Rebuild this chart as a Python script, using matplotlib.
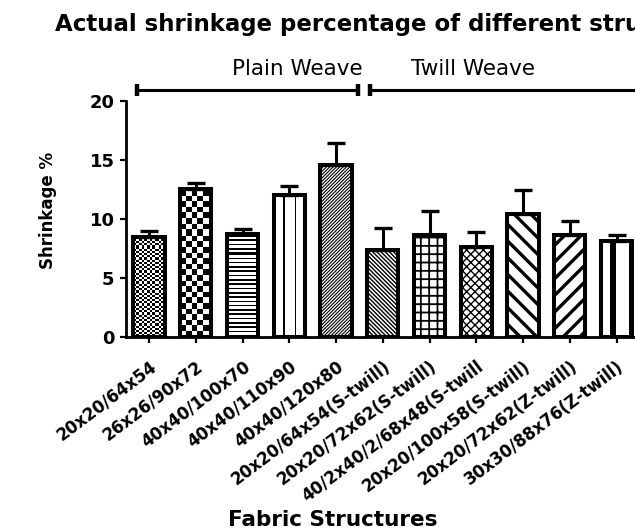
import matplotlib
matplotlib.use('Agg')
import matplotlib.pyplot as plt
import numpy as np

structures = ['20x20/64x54', '26x26/90x72', '40x40/100x70', '40x40/110x90',
              '40x40/120x80', '20x20/64x54(S-twill)', '20x20/72x62(S-twill)',
              '40/2x40/2/68x48(S-twill', '20x20/100x58(S-twill)',
              '20x20/72x62(Z-twill)', '30x30/88x76(Z-twill)']
shrinkage = [8.5, 12.55, 8.75, 12.05, 14.55, 7.4, 8.65, 7.6, 10.4, 8.65, 8.1]
sem = [0.5, 0.45, 0.4, 0.75, 1.85, 1.8, 2.0, 1.3, 2.0, 1.15, 0.5]
groups = ['Plain Weave', 'Twill Weave']

W, H = 635, 531
fig = plt.figure(figsize=(W / 100, H / 100), dpi=100)
ax = fig.add_axes([125.7 / W, (H - 337) / H, 561 / W, 236.3 / H])

x = np.arange(len(structures))
bars = ax.bar(x, shrinkage, width=0.67, color='white', edgecolor='black',
              linewidth=2.9, zorder=2)
ax.errorbar(x, shrinkage, yerr=[np.zeros(len(sem)), sem], fmt='none',
            ecolor='black', elinewidth=2.2, capsize=6.5, capthick=2.4, zorder=3)

ax.set_xlim(-0.5, 11.5)
ax.set_ylim(0, 20)

# hatch patterns (pattern, hatch linewidth)
hatches = {4: ('/' * 10, 0.8), 5: ('\\' * 8, 1.0), 6: ('++', 1.3),
           7: ('xxxx', 1.0), 8: ('\\\\', 2.4), 9: ('//', 2.4)}
for i, (h, lw) in hatches.items():
    bars[i].set_hatch(h)
    if hasattr(bars[i], 'set_hatch_linewidth'):
        bars[i].set_hatch_linewidth(lw)
plt.rcParams['hatch.linewidth'] = 1.2

# pixel textures for the bars matplotlib has no hatch for
def checker(c, r, cw, ch):
    return (np.floor(c / cw) + np.floor(r / ch)) % 2

textures = {
    0: lambda c, r: checker(c, r, 2.7, 2.2),
    1: lambda c, r: checker(c, r, 5.6, 5.6),
    2: lambda c, r: ((r % 4.3) < 1.6).astype(float),
    3: lambda c, r: (((c - 8.5) % 11.6) < 1.6).astype(float),
    10: lambda c, r: (((c - 9.0) % 17.5) < 6.0).astype(float),
}

p0 = ax.transData.transform((0, 0))
p1 = ax.transData.transform((1, 1))
sx, sy = p1 - p0
for i, fn in textures.items():
    b = bars[i]
    bx, bw, bh = b.get_x(), b.get_width(), b.get_height()
    nc, nr = int(bw * sx) + 2, int(bh * sy) + 2
    c, r = np.meshgrid(np.arange(nc), np.arange(nr))
    img = 1 - fn(c, r)
    b.set_facecolor('none')
    im = ax.imshow(img, extent=(bx, bx + nc / sx, 0, nr / sy), origin='lower',
                   cmap='gray', vmin=0, vmax=1, interpolation='nearest',
                   aspect='auto', zorder=1.5)
    im.set_clip_path(b)

ax.set_xlim(-0.5, 11.5)
ax.set_ylim(0, 20)

for s in ['top', 'right']:
    ax.spines[s].set_visible(False)
for s in ['left', 'bottom']:
    ax.spines[s].set_linewidth(2.0)
ax.tick_params(direction='out', length=4.5, width=1.6, labelsize=13)
ax.tick_params(axis='x', pad=10)
ax.set_yticks([0, 5, 10, 15, 20])
ax.set_xticks(x)
ax.set_xticklabels(structures, rotation=37, ha='right', rotation_mode='anchor',
                   fontsize=12, fontweight='bold')
for t in ax.get_yticklabels():
    t.set_fontweight('bold')

# group brackets above the bars
yb = 20.93
spans = [(-0.25, 4.47), (4.73, 12.5)]
for (a, b) in spans:
    ax.plot([a, b], [yb, yb], color='black', lw=2.2, clip_on=False,
            solid_capstyle='butt')
    ax.plot([a, a], [yb - 0.5, yb + 0.5], color='black', lw=3.2, clip_on=False,
            solid_capstyle='butt')
ax.plot([4.47, 4.47], [yb - 0.5, yb + 0.5], color='black', lw=3.2,
        clip_on=False, solid_capstyle='butt')
ax.text(3.17, 22.2, groups[0], ha='center', va='baseline', fontsize=15.5)
ax.text(6.92, 22.2, groups[1], ha='center', va='baseline', fontsize=15.5)

fig.text(55 / W, (H - 24) / H, 'Actual shrinkage percentage of different structures',
         ha='left', va='center', fontsize=16.5, fontweight='bold')
fig.text(48 / W, (H - 210) / H, 'Shrinkage %', rotation=90, ha='center',
         va='center', fontsize=12, fontweight='bold')
fig.text(333 / W, 11 / H, 'Fabric Structures', ha='center', va='center',
         fontsize=15.5, fontweight='bold')

fig.savefig('out.png', dpi=100)
